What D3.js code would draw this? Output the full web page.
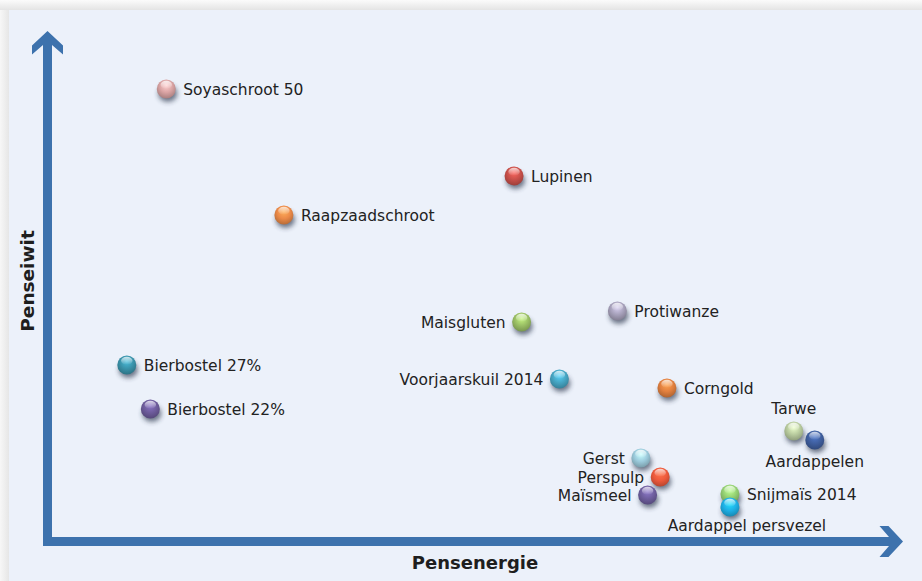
<!DOCTYPE html>
<html>
<head>
<meta charset="utf-8">
<script src="https://cdn.jsdelivr.net/npm/d3@7"></script>
<style>
  html, body { margin: 0; padding: 0; }
  body { width: 922px; height: 581px; overflow: hidden; background: #f2f2f2; }
  svg { display: block; font-family: "DejaVu Sans", Verdana, sans-serif; }
</style>
</head>
<body>
<div id="chart"></div>
<script>
// feed products: energy (x) vs protein (y), arbitrary units
const names = ["Soyaschroot 50", "Lupinen", "Raapzaadschroot", "Maisgluten", "Protiwanze",
  "Bierbostel 27%", "Voorjaarskuil 2014", "Corngold", "Bierbostel 22%", "Tarwe", "Aardappelen",
  "Gerst", "Perspulp", "Maïsmeel", "Snijmaïs 2014", "Aardappel persvezel"];
const energie = [14.2, 55.6, 28.2, 56.5, 67.9, 9.5, 61.0, 73.8, 12.3, 88.9, 91.4, 70.7, 73.0, 71.5, 81.3, 81.3];
const eiwit = [91.2, 73.8, 66.0, 44.6, 46.8, 36.0, 33.2, 31.4, 27.2, 22.8, 21.0, 17.4, 13.6, 10.0, 10.2, 7.6];
const colors = ["#d9a3a3", "#c9504a", "#ec8a48", "#9bc065", "#a8a2bc", "#3a93ab", "#46a6c4", "#e2803f",
  "#6e5c9c", "#b9cc9f", "#3f5f9f", "#9ccbdc", "#ee5a3c", "#6f5f9f", "#95d173", "#1eb0e6"];
const labelSide = ["right", "right", "right", "left", "right", "right", "left", "right", "right",
  "above", "below", "left", "left", "left", "right", "below-right"];

const xTitle = "Pensenergie";
const yTitle = "Penseiwit";

const width = 922;
const height = 581;

const xScale = d3.scaleLinear().domain([0, 100]).range([47, 887]);
const yScale = d3.scaleLinear().domain([0, 100]).range([545, 45]);

const svg = d3.select("#chart")
  .append("svg")
  .attr("width", width)
  .attr("height", height);

const defs = svg.append("defs");

// page shading above/left of the panel
const topGrad = defs.append("linearGradient").attr("id", "topShade")
  .attr("x1", 0).attr("y1", 0).attr("x2", 0).attr("y2", 1);
topGrad.append("stop").attr("offset", "0%").attr("stop-color", "#fbfbfb");
topGrad.append("stop").attr("offset", "100%").attr("stop-color", "#e4e4e4");

svg.append("rect").attr("width", width).attr("height", 10).attr("fill", "url(#topShade)");

const leftGrad = defs.append("linearGradient").attr("id", "leftShade")
  .attr("x1", 0).attr("y1", 0).attr("x2", 1).attr("y2", 0);
leftGrad.append("stop").attr("offset", "0%").attr("stop-color", "#f7f7f7");
leftGrad.append("stop").attr("offset", "100%").attr("stop-color", "#e6e6e6");

svg.append("rect").attr("y", 10).attr("width", 9).attr("height", height - 10).attr("fill", "url(#leftShade)");

// panel
svg.append("rect")
  .attr("x", 9)
  .attr("y", 10)
  .attr("width", width - 9)
  .attr("height", height - 10)
  .attr("fill", "#ecf1fa");

// blur for the sphere shadows
defs.append("filter").attr("id", "blur")
  .attr("x", "-50%").attr("y", "-50%").attr("width", "200%").attr("height", "200%")
  .append("feGaussianBlur").attr("stdDeviation", 2.6);

// one glossy gradient per colour
colors.forEach((c, i) => {
  const base = d3.color(c);
  const g = defs.append("radialGradient")
    .attr("id", "ball" + i)
    .attr("cx", "50%").attr("cy", "38%").attr("r", "62%")
    .attr("fx", "50%").attr("fy", "30%");
  g.append("stop").attr("offset", "0%").attr("stop-color", base.brighter(0.7).formatHex());
  g.append("stop").attr("offset", "55%").attr("stop-color", base.formatHex());
  g.append("stop").attr("offset", "100%").attr("stop-color", base.darker(0.7).formatHex());
});

const shine = defs.append("linearGradient").attr("id", "shine")
  .attr("x1", 0).attr("y1", 0).attr("x2", 0).attr("y2", 1);
shine.append("stop").attr("offset", "0%").attr("stop-color", "#fff").attr("stop-opacity", 0.75);
shine.append("stop").attr("offset", "100%").attr("stop-color", "#fff").attr("stop-opacity", 0);

// axes drawn as thick arrows
const axisColor = "#3d72ad";
const ox = xScale(0) + 0.5;
const oy = yScale(0) - 3.5;
const bar = 4.5;
const tipY = yScale(100) - 14;
const tipX = xScale(100) + 16;

const vArrow = d3.path();
vArrow.moveTo(ox - bar, oy + bar);
vArrow.lineTo(ox - bar, tipY + 14);
vArrow.lineTo(ox - 15.5, tipY + 23.5);
vArrow.lineTo(ox - 15.5, tipY + 14.5);
vArrow.lineTo(ox, tipY);
vArrow.lineTo(ox + 15.5, tipY + 14.5);
vArrow.lineTo(ox + 15.5, tipY + 23.5);
vArrow.lineTo(ox + bar, tipY + 14);
vArrow.lineTo(ox + bar, oy + bar);
vArrow.closePath();

const hArrow = d3.path();
hArrow.moveTo(ox - bar, oy - bar);
hArrow.lineTo(tipX - 14, oy - bar);
hArrow.lineTo(tipX - 23.5, oy - 15.5);
hArrow.lineTo(tipX - 14.5, oy - 15.5);
hArrow.lineTo(tipX, oy);
hArrow.lineTo(tipX - 14.5, oy + 15.5);
hArrow.lineTo(tipX - 23.5, oy + 15.5);
hArrow.lineTo(tipX - 14, oy + bar);
hArrow.lineTo(ox - bar, oy + bar);
hArrow.closePath();

svg.append("path").attr("d", vArrow.toString()).attr("fill", axisColor);
svg.append("path").attr("d", hArrow.toString()).attr("fill", axisColor);

// axis titles
svg.append("text")
  .attr("x", (xScale(0) + tipX) / 2)
  .attr("y", 569)
  .attr("text-anchor", "middle")
  .style("font-size", "18px")
  .style("font-weight", "bold")
  .style("fill", "#1e1e1e")
  .text(xTitle);

svg.append("text")
  .attr("transform", "translate(34," + 281 + ") rotate(-90)")
  .attr("text-anchor", "middle")
  .style("font-size", "18.5px")
  .style("font-weight", "bold")
  .style("fill", "#1e1e1e")
  .text(yTitle);

// points
const r = 9.5;
const points = svg.selectAll("g.point")
  .data(names.map((n, i) => ({ name: n, x: energie[i], y: eiwit[i], i: i, side: labelSide[i] })))
  .enter()
  .append("g")
  .attr("class", "point")
  .attr("transform", d => "translate(" + xScale(d.x) + "," + yScale(d.y) + ")");

points.append("ellipse")
  .attr("cx", 1.5)
  .attr("cy", 4.5)
  .attr("rx", r)
  .attr("ry", r - 1)
  .attr("fill", "#28314a")
  .attr("opacity", 0.65)
  .attr("filter", "url(#blur)");

points.append("circle")
  .attr("r", r)
  .attr("fill", d => "url(#ball" + d.i + ")");

points.append("ellipse")
  .attr("cx", 0)
  .attr("cy", -r * 0.45)
  .attr("rx", r * 0.6)
  .attr("ry", r * 0.42)
  .attr("fill", "url(#shine)");

points.append("text")
  .attr("x", d => d.side === "right" ? 17 : d.side === "left" ? -16
    : d.side === "below-right" ? 17 : 0)
  .attr("y", d => d.side === "above" ? -17 : d.side === "below" ? 27
    : d.side === "below-right" ? 24 : 5.5)
  .attr("text-anchor", d => d.side === "right" ? "start" : d.side === "left" ? "end" : "middle")
  .style("font-size", "15.5px")
  .style("fill", "#222")
  .text(d => d.name);
</script>
</body>
</html>
